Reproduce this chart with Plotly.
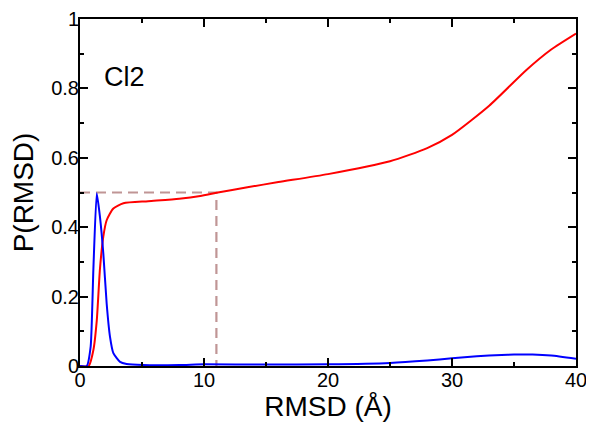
import plotly.graph_objects as go

# Red curve (cumulative probability)
red_x = [0.0, 0.7, 1.08, 1.35, 1.61, 1.88, 2.15, 2.69, 3.5, 5.5, 8.0, 9.7, 11.0, 13.5, 16.0,
         20.0, 25.0, 28.0, 30.0, 33.0, 36.0, 38.0, 40.0]
red_y = [0.0, 0.0, 0.046, 0.13, 0.28, 0.373, 0.42, 0.454, 0.469, 0.475, 0.482, 0.490, 0.499, 0.515, 0.530,
         0.553, 0.590, 0.628, 0.666, 0.750, 0.853, 0.912, 0.958]

# Blue curve (probability distribution)
blue_x = [0.0, 0.54, 0.86, 1.08, 1.35, 1.61, 1.88, 2.15, 2.42, 2.69, 3.23, 3.76, 5.1, 8.0, 10.0,
          15.0, 20.0, 25.0, 28.0, 30.0, 32.0, 34.0, 35.0, 36.5, 38.0, 40.0]
blue_y = [0.0, 0.0, 0.056, 0.28, 0.498, 0.43, 0.325, 0.18, 0.084, 0.037, 0.012, 0.006, 0.003, 0.003, 0.005,
          0.004, 0.005, 0.009, 0.016, 0.022, 0.028, 0.032, 0.033, 0.033, 0.030, 0.021]

# Reference dashed guide
guide_x = [0.0, 11.0, 11.0]
guide_y = [0.5, 0.5, 0.0]

FONT = "Liberation Sans, Arial, Helvetica"

fig = go.Figure()
fig.add_trace(go.Scatter(x=guide_x, y=guide_y, mode="lines",
                         line=dict(color="#c09595", width=2.2, dash="10px,6px"), showlegend=False))
fig.add_trace(go.Scatter(x=red_x, y=red_y, mode="lines", line=dict(color="#ff0000", width=2, shape="spline", smoothing=0.6),
                         showlegend=False))
fig.add_trace(go.Scatter(x=blue_x, y=blue_y, mode="lines", line=dict(color="#0000ff", width=2, shape="spline", smoothing=0.5),
                         showlegend=False))

fig.add_annotation(x=3.6, y=0.833, text="Cl2", showarrow=False,
                   font=dict(family=FONT, size=27, color="black"))

axis_common = dict(showgrid=False, zeroline=False, showline=True, linecolor="black", linewidth=2,
                   mirror="allticks", ticks="inside", ticklen=8, tickwidth=1.5, tickcolor="black",
                   automargin=False, ticklabelstandoff=-5,
                   tickfont=dict(family=FONT, size=20, color="black"))

# page body has an 8px default margin, so the figure is sized/offset to compensate
fig.update_layout(
    width=586, height=420,
    margin=dict(l=72, r=18, t=11, b=62),
    paper_bgcolor="white", plot_bgcolor="white",
    xaxis=dict(range=[0, 40], dtick=10, tick0=0,
               minor=dict(dtick=5, ticks="inside", ticklen=4, tickwidth=1.5, tickcolor="black"),
               title=dict(text="RMSD (Å)", font=dict(family=FONT, size=28, color="black"), standoff=6),
               **axis_common),
    yaxis=dict(range=[0, 1], dtick=0.2, tick0=0,
               minor=dict(dtick=0.1, ticks="inside", ticklen=4, tickwidth=1.5, tickcolor="black"),
               title=dict(text="P(RMSD)", font=dict(family=FONT, size=28, color="black"), standoff=10),
               **axis_common),
)

fig.write_html("out.html")
